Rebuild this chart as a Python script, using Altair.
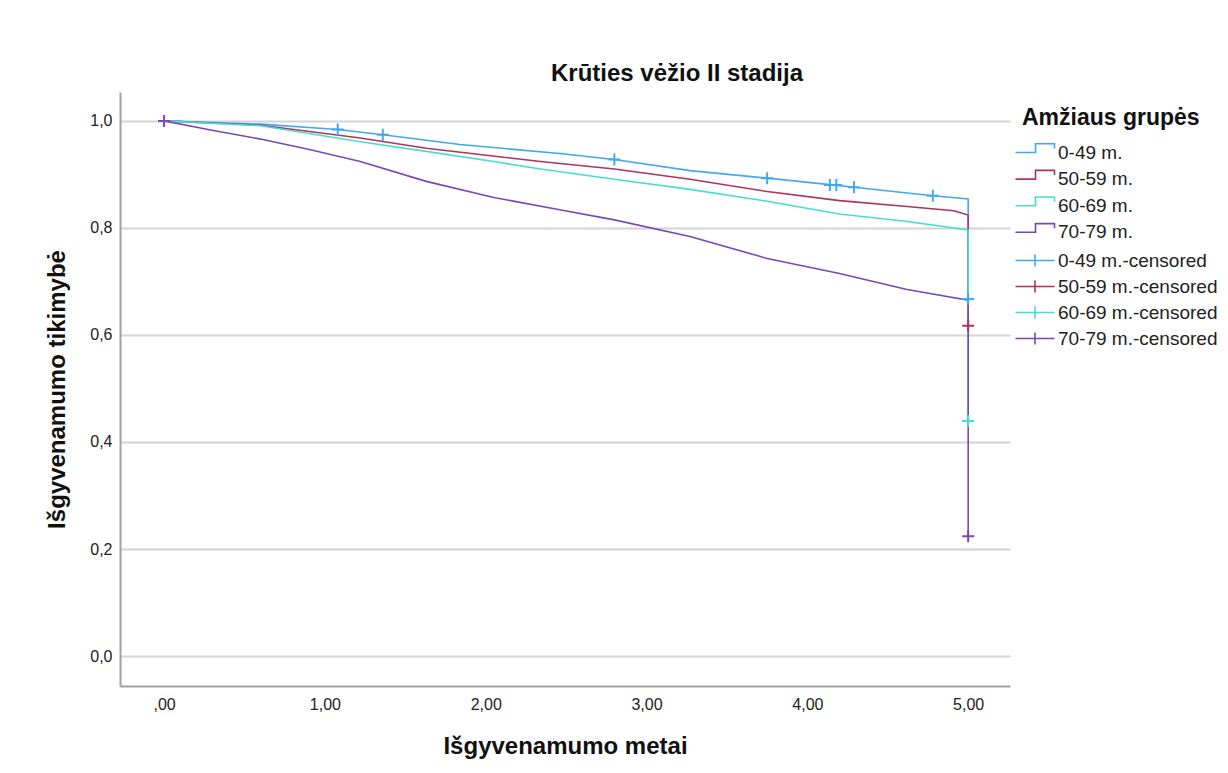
import altair as alt
import pandas as pd

FONT = "Liberation Sans"

groups = ["0-49 m.", "50-59 m.", "60-69 m.", "70-79 m."]
censored = [g + "-censored" for g in groups]
colors = ["#42A8F6", "#B0325E", "#45DED2", "#7549B6"]

# Kaplan-Meier curves (time in years, survival probability)
t_0_49 = [0, 0.3, 0.6, 1.08, 1.36, 1.84, 2.46, 2.80, 3.27, 3.75, 4.17, 4.29, 4.78, 5.0, 5.0]
s_0_49 = [1.0, 0.997, 0.994, 0.984, 0.974, 0.956, 0.939, 0.928, 0.907, 0.893, 0.880, 0.876, 0.860, 0.854, 0.667]

t_50_59 = [0, 0.6, 1.22, 1.63, 2.34, 2.80, 3.27, 3.75, 4.20, 4.62, 4.91, 5.0, 5.0]
s_50_59 = [1.0, 0.992, 0.968, 0.949, 0.924, 0.910, 0.891, 0.868, 0.851, 0.840, 0.832, 0.824, 0.617]

t_60_69 = [0, 0.6, 1.22, 1.63, 2.05, 2.34, 2.80, 3.27, 3.75, 4.20, 4.62, 5.0, 5.0]
s_60_69 = [1.0, 0.991, 0.961, 0.943, 0.924, 0.910, 0.891, 0.872, 0.850, 0.826, 0.812, 0.796, 0.439]

t_70_79 = [0, 0.29, 0.6, 0.91, 1.22, 1.63, 2.05, 2.46, 2.80, 3.27, 3.75, 4.20, 4.62, 5.0, 5.0]
s_70_79 = [1.0, 0.983, 0.966, 0.946, 0.924, 0.887, 0.857, 0.834, 0.815, 0.784, 0.743, 0.715, 0.685, 0.665, 0.224]

# censored observations
ct_0_49 = [1.08, 1.36, 2.80, 3.75, 4.14, 4.18, 4.29, 4.78, 5.0]
cs_0_49 = [0.984, 0.974, 0.928, 0.893, 0.880, 0.880, 0.876, 0.860, 0.667]
ct_50_59 = [5.0]
cs_50_59 = [0.617]
ct_60_69 = [5.0]
cs_60_69 = [0.439]
ct_70_79 = [0.0, 5.0]
cs_70_79 = [1.0, 0.224]

x_ticks = [0, 1, 2, 3, 4, 5]
y_ticks = [0.0, 0.2, 0.4, 0.6, 0.8, 1.0]

line_rows = []
for g, ts, ss in zip(groups, [t_0_49, t_50_59, t_60_69, t_70_79],
                     [s_0_49, s_50_59, s_60_69, s_70_79]):
    for i, (t, s) in enumerate(zip(ts, ss)):
        line_rows.append({"grp": g, "t": t, "s": s, "i": i})
lines_df = pd.DataFrame(line_rows)

cens_rows = []
for c, ts, ss in zip(censored, [ct_0_49, ct_50_59, ct_60_69, ct_70_79],
                     [cs_0_49, cs_50_59, cs_60_69, cs_70_79]):
    for t, s in zip(ts, ss):
        cens_rows.append({"cens": c, "t": t, "s": s})
cens_df = pd.DataFrame(cens_rows)

x_enc = alt.X(
    "t:Q",
    scale=alt.Scale(domain=[-0.274, 5.26], nice=False, zero=False),
    axis=alt.Axis(
        values=x_ticks,
        labelExpr="datum.value == 0 ? ',00' : replace(format(datum.value, '.2f'), '.', ',')",
        title="Išgyvenamumo metai",
        grid=False, ticks=False, tickSize=0,
        domainColor="#A0A0A0", domainWidth=2,
        labelFont=FONT, labelFontSize=16, labelColor="#222222", labelPadding=10,
        titleFont=FONT, titleFontSize=24, titleFontWeight="bold", titleColor="#111111",
        titlePadding=22,
    ),
)
y_enc = alt.Y(
    "s:Q",
    scale=alt.Scale(domain=[-0.056, 1.054], nice=False, zero=False),
    axis=alt.Axis(
        values=y_ticks,
        labelExpr="replace(format(datum.value, '.1f'), '.', ',')",
        title="Išgyvenamumo tikimybė",
        grid=True, gridColor="#D4D4D4", gridWidth=2,
        ticks=False, tickSize=0,
        domainColor="#A0A0A0", domainWidth=2,
        labelFont=FONT, labelFontSize=16, labelColor="#222222", labelPadding=8,
        titleFont=FONT, titleFontSize=24, titleFontWeight="bold", titleColor="#111111",
        titlePadding=20,
    ),
)

step_glyph = "M-2.67,0L0.67,0L0.67,-1.45L3.83,-1.45L3.83,-0.67"
cross_glyph = "M-1,0L5.5,0M2.25,-1L2.25,1"

lines = alt.Chart(lines_df).mark_line(strokeWidth=1.6, interpolate="linear").encode(
    x=x_enc,
    y=y_enc,
    order=alt.Order("i:Q"),
    color=alt.Color(
        "grp:N",
        scale=alt.Scale(domain=groups, range=colors),
        legend=alt.Legend(
            title="Amžiaus grupės",
            orient="none", legendX=902, legendY=15,
            titleFont=FONT, titleFontSize=23, titleFontWeight="bold", titleColor="#111111",
            titleAnchor="start", titlePadding=13,
            labelFont=FONT, labelFontSize=19, labelColor="#222222", labelOffset=17,
            symbolType=step_glyph, symbolSize=144, symbolStrokeWidth=1.6,
            symbolFillColor="transparent", rowPadding=3.6,
        ),
    ),
)

points = alt.Chart(cens_df).mark_point(
    shape="M-1,0L1,0M0,-1L0,1", size=144, filled=False, strokeWidth=2, opacity=1
).encode(
    x=x_enc,
    y=y_enc,
    stroke=alt.Stroke(
        "cens:N",
        scale=alt.Scale(domain=censored, range=colors),
        legend=alt.Legend(
            title=None,
            orient="none", legendX=892, legendY=159,
            labelFont=FONT, labelFontSize=19, labelColor="#222222", labelOffset=27,
            symbolType=cross_glyph, symbolSize=144, symbolStrokeWidth=1.6,
            symbolFillColor="transparent", rowPadding=6,
        ),
    ),
)

chart = alt.layer(lines, points).properties(
    width=890,
    height=594,
    padding={"left": 120, "top": 92, "right": 218, "bottom": 87},
    autosize=alt.AutoSizeParams(type="none"),
    background="white",
    title=alt.TitleParams(
        "Krūties vėžio II stadija",
        font=FONT, fontSize=24, fontWeight="bold", color="#111111",
        anchor="middle", frame="group", dx=112, offset=-13, baseline="alphabetic",
    ),
).configure_view(strokeWidth=0)

chart.save("out.html", embed_options={"renderer": "svg", "actions": False})
